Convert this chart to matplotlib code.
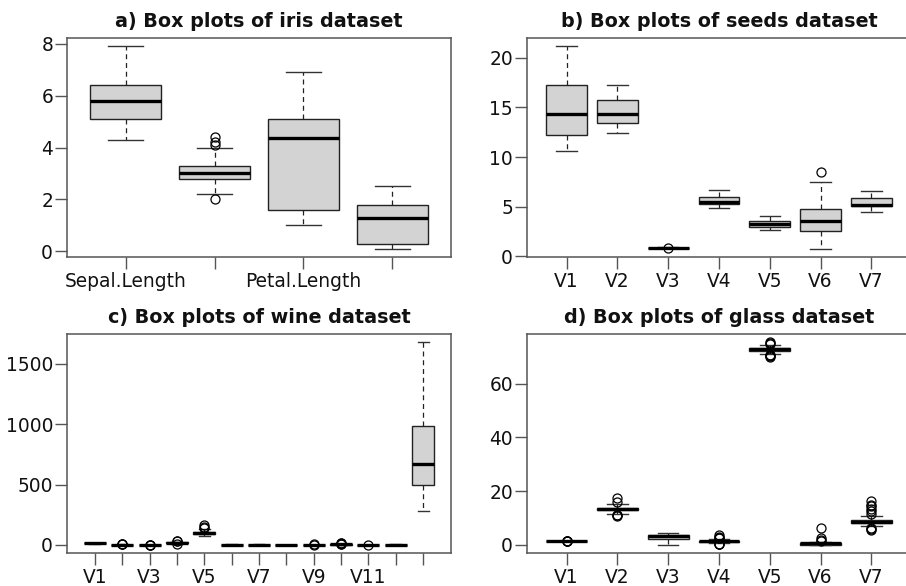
import numpy as np
import matplotlib
matplotlib.use("Agg")
import matplotlib.pyplot as plt

# ---- iris (summary stats) ----
iris_labels = ["Sepal.Length", "", "Petal.Length", ""]
iris_whislo = [4.3, 2.2, 1.0, 0.1]
iris_q1 = [5.1, 2.8, 1.6, 0.3]
iris_med = [5.8, 3.0, 4.35, 1.3]
iris_q3 = [6.4, 3.3, 5.1, 1.8]
iris_whishi = [7.9, 4.0, 6.9, 2.5]
iris_fliers = [[], [2.0, 4.1, 4.2, 4.4], [], []]

# ---- seeds ----
seeds_labels = ["V1", "V2", "V3", "V4", "V5", "V6", "V7"]
seeds_whislo = [10.59, 12.41, 0.8198, 4.899, 2.63, 0.765, 4.519]
seeds_q1 = [12.27, 13.45, 0.857, 5.262, 2.944, 2.56, 5.045]
seeds_med = [14.36, 14.32, 0.873, 5.524, 3.237, 3.60, 5.223]
seeds_q3 = [17.31, 15.72, 0.888, 5.98, 3.562, 4.77, 5.877]
seeds_whishi = [21.18, 17.25, 0.918, 6.675, 4.033, 7.52, 6.55]
seeds_fliers = [[], [], [0.808], [], [], [8.456], []]

# ---- wine ----
wine_labels = ["V1", "", "V3", "", "V5", "", "V7", "", "V9", "", "V11", "", ""]
wine_whislo = [11.03, 0.74, 1.70, 11.2, 70, 0.98, 0.34, 0.13, 0.41, 1.28, 0.48, 1.27, 278]
wine_q1 = [12.36, 1.60, 2.21, 17.2, 88, 1.74, 1.21, 0.27, 1.25, 3.22, 0.78, 1.94, 500]
wine_med = [13.05, 1.87, 2.36, 19.5, 98, 2.36, 2.14, 0.34, 1.56, 4.69, 0.97, 2.78, 674]
wine_q3 = [13.68, 3.08, 2.56, 21.5, 107, 2.80, 2.88, 0.44, 1.95, 6.20, 1.12, 3.17, 985]
wine_whishi = [14.83, 5.04, 3.00, 27.0, 134, 3.88, 5.08, 0.66, 2.96, 10.52, 1.45, 4.00, 1680]
wine_fliers = [[], [5.51, 5.65, 5.80], [1.36, 3.22, 3.23], [10.6, 28.5, 30.0],
               [139, 151, 162], [], [], [], [3.28, 3.58], [10.68, 10.8, 11.75, 13.0],
               [1.71], [], []]

# ---- glass ----
glass_labels = ["V1", "V2", "V3", "V4", "V5", "V6", "V7"]
glass_whislo = [1.513, 11.45, 0.0, 0.56, 71.15, 0.0, 6.96]
glass_q1 = [1.5165, 12.91, 2.12, 1.19, 72.28, 0.12, 8.24]
glass_med = [1.5177, 13.30, 3.48, 1.36, 72.79, 0.56, 8.60]
glass_q3 = [1.5192, 13.83, 3.60, 1.63, 73.09, 0.61, 9.17]
glass_whishi = [1.5232, 15.15, 4.49, 2.27, 74.22, 1.19, 10.56]
glass_fliers = [[1.511, 1.527, 1.529, 1.534],
                [10.73, 11.02, 11.23, 15.79, 17.38],
                [],
                [0.29, 0.34, 0.47, 2.42, 2.74, 3.04, 3.5],
                [69.81, 70.16, 70.48, 70.7, 74.55, 75.18, 75.41],
                [1.41, 1.68, 2.70, 6.21],
                [5.43, 5.87, 6.35, 11.41, 12.5, 13.3, 14.4, 14.96, 16.19]]

panels = [
    ("a) Box plots of iris dataset", iris_labels, iris_whislo, iris_q1, iris_med,
     iris_q3, iris_whishi, iris_fliers, [0, 2, 4, 6, 8]),
    ("b) Box plots of seeds dataset", seeds_labels, seeds_whislo, seeds_q1, seeds_med,
     seeds_q3, seeds_whishi, seeds_fliers, [0, 5, 10, 15, 20]),
    ("c) Box plots of wine dataset", wine_labels, wine_whislo, wine_q1, wine_med,
     wine_q3, wine_whishi, wine_fliers, [0, 500, 1000, 1500]),
    ("d) Box plots of glass dataset", glass_labels, glass_whislo, glass_q1, glass_med,
     glass_q3, glass_whishi, glass_fliers, [0, 20, 40, 60]),
]

W, H = 906, 586
# axes boxes in pixels: left, top, right, bottom (right column runs past the edge, as in the original)
boxes_px = [(67, 38, 451, 257), (527, 38, 911, 257),
            (67, 334, 451, 553), (527, 334, 911, 553)]

plt.rcParams['font.family'] = ['DejaVu Sans']
fig = plt.figure(figsize=(W / 100, H / 100), dpi=100)

for (title, labels, wlo, q1, med, q3, whi, fl, yticks), (l, t, r, b) in zip(panels, boxes_px):
    ax = fig.add_axes([l / W, 1 - b / H, (r - l) / W, (b - t) / H])
    n = len(labels)
    stats = []
    for i in range(n):
        stats.append(dict(whislo=wlo[i], q1=q1[i], med=med[i], q3=q3[i],
                          whishi=whi[i], fliers=fl[i]))
    pos = np.arange(1, n + 1)
    ax.bxp(stats, positions=pos, widths=0.8, capwidths=0.4, patch_artist=True,
           boxprops=dict(facecolor='#d3d3d3', edgecolor='#222222', linewidth=1.0),
           medianprops=dict(color='black', linewidth=2.4, solid_capstyle='butt'),
           whiskerprops=dict(color='#222222', linewidth=0.9, linestyle=(0, (4, 3))),
           capprops=dict(color='#333333', linewidth=1.0),
           flierprops=dict(marker='o', markerfacecolor='none', markeredgecolor='black',
                           markersize=6.5, markeredgewidth=0.9),
           manage_ticks=False)

    # R-style axis limits: data range padded by 4 %
    allv = np.concatenate([wlo, whi] + [np.asarray(f, float) for f in fl if len(f)])
    lo, hi = allv.min(), allv.max()
    pad = 0.04 * (hi - lo)
    ax.set_ylim(lo - pad, hi + pad)
    ax.set_xlim(0.5 - 0.04 * n, n + 0.5 + 0.04 * n)

    ax.set_xticks(pos)
    ax.set_xticklabels(labels)
    ax.set_yticks(yticks)
    ax.tick_params(axis='both', length=8.5, width=1.0, color='#555555',
                   labelsize=13.4, labelcolor='#111111')
    ax.tick_params(axis='y', pad=1.5)
    ax.tick_params(axis='x', pad=2)
    for s in ax.spines.values():
        s.set_color('#555555')
        s.set_linewidth(1.1)
    ax.set_title(title, fontsize=13.8, fontweight='bold', pad=8, color='#111111')

fig.savefig("out.png", dpi=100)
